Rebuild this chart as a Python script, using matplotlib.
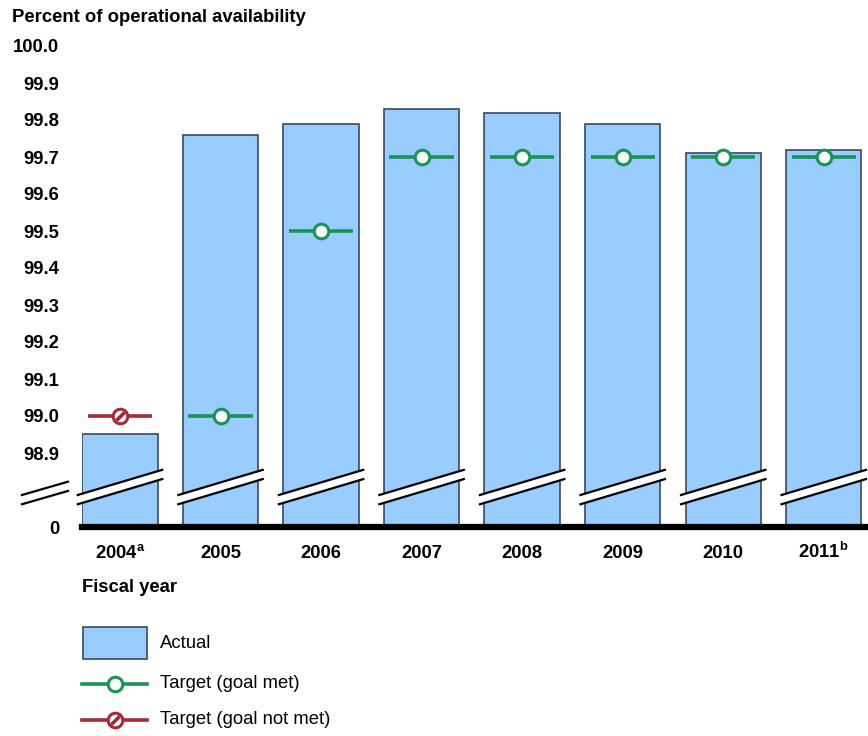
import matplotlib
matplotlib.use("Agg")
import matplotlib.pyplot as plt
from matplotlib.patches import Polygon, Rectangle
from matplotlib.lines import Line2D
import numpy as np

plt.rcParams['font.family'] = ['Liberation Sans', 'DejaVu Sans']
plt.rcParams['mathtext.fontset'] = 'custom'
plt.rcParams['mathtext.rm'] = 'Liberation Sans:bold'
plt.rcParams['mathtext.it'] = 'Liberation Sans:bold'
plt.rcParams['mathtext.bf'] = 'Liberation Sans:bold'

# ---- data ----
years = ["2004", "2005", "2006", "2007", "2008", "2009", "2010", "2011"]
year_notes = ["a", "", "", "", "", "", "", "b"]
actual = [98.95, 99.76, 99.79, 99.83, 99.82, 99.79, 99.71, 99.72]
target = [99.0, 99.0, 99.5, 99.7, 99.7, 99.7, 99.7, 99.7]
target_met = [False, True, True, True, True, True, True, True]
ytick_vals = [98.7, 98.9, 99.0, 99.1, 99.2, 99.3, 99.4, 99.5, 99.6, 99.7, 99.8, 99.9, 100.0]
ytick_labels = ["0", "98.9", "99.0", "99.1", "99.2", "99.3", "99.4", "99.5",
                "99.6", "99.7", "99.8", "99.9", "100.0"]
base = 98.7  # axis break: bottom of axis represents 0

# ---- style ----
W, H = 868, 736
bar_color = "#99ccff"
bar_edge = "#3b4a5c"
green = "#1a9455"
red = "#a52a3a"
FS = 13.3

fig = plt.figure(figsize=(W / 100, H / 100), dpi=100)

def fx(px):
    return px / W

def fy(py):
    return 1 - py / H

ax_l, ax_r, ax_t, ax_b = 82, 868, 46, 527
ax = fig.add_axes([fx(ax_l), fy(ax_b), fx(ax_r - ax_l), (ax_b - ax_t) / H])
ax.set_xlim(-0.378, 7.44)
ax.set_ylim(base, 100.0)

x = np.arange(len(years))
heights = [a - base for a in actual]
ax.bar(x, heights, bottom=base, width=0.75, color=bar_color,
       edgecolor=bar_edge, linewidth=1.2, zorder=2)

SLASH = (2, 2, -45)

# targets
for xi, t, met in zip(x, target, target_met):
    c = green if met else red
    ax.plot([xi - 0.32, xi + 0.32], [t, t], color=c, lw=2.6, zorder=3,
            solid_capstyle='butt')
    ax.plot([xi], [t], marker='o', ms=10.5, mfc='white', mec=c, mew=2.2,
            zorder=4)
    if not met:
        ax.plot([xi], [t], marker=SLASH, ms=8, mec=c, mew=2.2, zorder=5)

# axis break marks on bars
def break_mark(xc, half_w, yl, yr):
    th = 0.0125
    poly = Polygon([[xc - half_w, yl - th], [xc + half_w, yr - th],
                    [xc + half_w, yr + th], [xc - half_w, yl + th]],
                   closed=True, facecolor='white', edgecolor='none',
                   zorder=6, clip_on=False)
    ax.add_patch(poly)
    for s in (-1, 1):
        ax.add_line(Line2D([xc - half_w, xc + half_w],
                           [yl + s * th, yr + s * th], color='black',
                           lw=1.6, zorder=7, clip_on=False))

for xi in x:
    break_mark(xi, 0.42, 98.774, 98.842)
# on y axis
break_mark(-0.746, 0.229, 98.774, 98.810)

# y ticks
ax.set_yticks(ytick_vals)
ax.set_yticklabels(ytick_labels, fontsize=FS, fontweight='bold')
ax.tick_params(axis='y', length=0, pad=16.5)

# x tick labels drawn at a common baseline
ax.set_xticks(x)
ax.set_xticklabels([])
ax.tick_params(axis='x', length=0)
for xi, yr, n in zip(x, years, year_notes):
    lab = yr + (f"$^{{\\mathrm{{{n}}}}}$" if n else "")
    ax.text(xi, -(558 - ax_b) / (ax_b - ax_t), lab, transform=ax.get_xaxis_transform(),
            fontsize=FS, fontweight='bold', ha='center', va='baseline')

for s in ['top', 'right', 'left']:
    ax.spines[s].set_visible(False)
ax.spines['bottom'].set_linewidth(4.5)
ax.spines['bottom'].set_color('black')
ax.spines['bottom'].set_zorder(8)

# titles
fig.text(fx(12), fy(17), "Percent of operational availability", fontsize=FS,
         fontweight='bold', ha='left', va='center')
fig.text(fx(82), fy(588), "Fiscal year", fontsize=FS, fontweight='bold',
         ha='left', va='center')

# legend
fig.add_artist(Rectangle((fx(83), fy(659)), fx(64), (659 - 627) / H,
                         facecolor=bar_color, edgecolor=bar_edge, lw=1.2,
                         transform=fig.transFigure))
fig.text(fx(160), fy(643), "Actual", fontsize=FS, ha='left', va='center')

for py, c, met, lab in [(684, green, True, "Target (goal met)"),
                        (720, red, False, "Target (goal not met)")]:
    fig.add_artist(Line2D([fx(82), fx(147)], [fy(py), fy(py)], color=c,
                          lw=2.6, transform=fig.transFigure))
    fig.add_artist(Line2D([fx(115)], [fy(py)], marker='o', ms=10.5,
                          mfc='white', mec=c, mew=2.2,
                          transform=fig.transFigure))
    if not met:
        fig.add_artist(Line2D([fx(115)], [fy(py)], marker=SLASH, ms=8,
                              mec=c, mew=2.2, transform=fig.transFigure))
    fig.text(fx(160), fy(py), lab, fontsize=FS, ha='left', va='center')

fig.savefig("out.png", dpi=100)
